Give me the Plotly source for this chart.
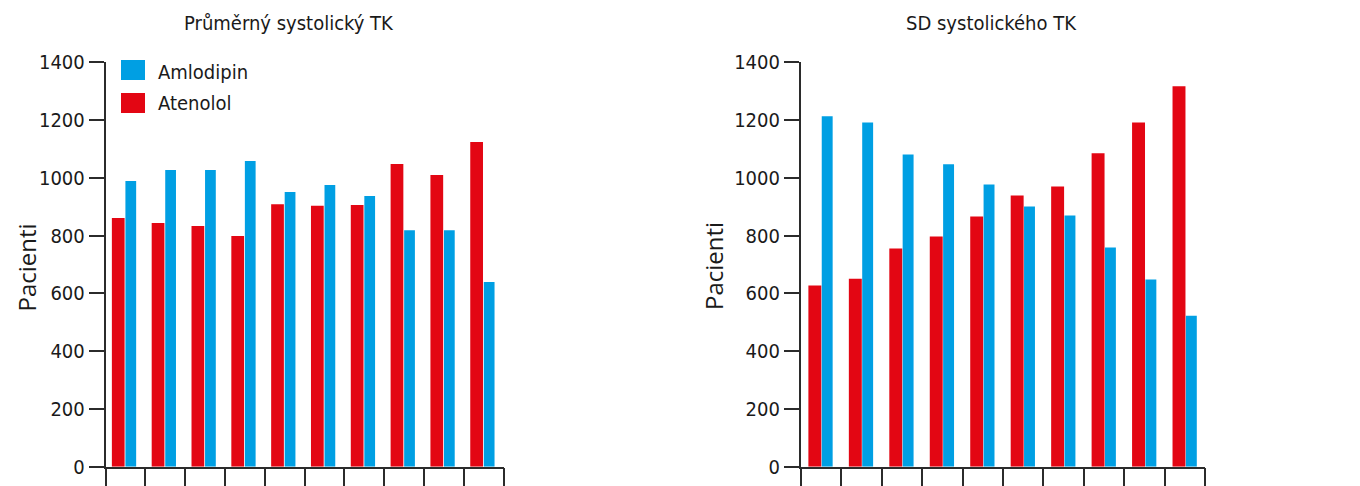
import plotly.graph_objects as go

categories = [1, 2, 3, 4, 5, 6, 7, 8, 9, 10]
mean_atenolol = [861, 844, 833, 799, 909, 903, 906, 1048, 1010, 1124]
mean_amlodipin = [989, 1027, 1027, 1058, 951, 975, 937, 819, 819, 639]
sd_atenolol = [627, 651, 755, 797, 866, 939, 970, 1085, 1192, 1317]
sd_amlodipin = [1213, 1192, 1081, 1047, 977, 901, 870, 759, 648, 523]
y_ticks = [0, 200, 400, 600, 800, 1000, 1200, 1400]
titles = ["Průměrný systolický TK", "SD systolického TK"]
y_title = "Pacienti"
series_names = ["Amlodipin", "Atenolol"]

RED = "#E30613"
BLUE = "#009FE3"
INK = "#1a1a1a"
AXIS = "#2b2b2b"
FONT = "'DejaVu Sans Condensed', 'DejaVu Sans', sans-serif"
FONT_W = "'Open Sans', Lato, sans-serif"

fig = go.Figure()

# left panel
fig.add_trace(go.Bar(x=categories, y=mean_atenolol, name=series_names[1], marker_color=RED,
                     width=0.32, offset=-0.34, marker_line_width=0, showlegend=False,
                     xaxis="x", yaxis="y"))
fig.add_trace(go.Bar(x=categories, y=mean_amlodipin, name=series_names[0], marker_color=BLUE,
                     width=0.27, offset=0.0, marker_line_width=0, showlegend=False,
                     xaxis="x", yaxis="y"))
# right panel
fig.add_trace(go.Bar(x=categories, y=sd_atenolol, name=series_names[1], marker_color=RED,
                     width=0.32, offset=-0.31, marker_line_width=0, showlegend=False,
                     xaxis="x2", yaxis="y2"))
fig.add_trace(go.Bar(x=categories, y=sd_amlodipin, name=series_names[0], marker_color=BLUE,
                     width=0.27, offset=0.02, marker_line_width=0, showlegend=False,
                     xaxis="x2", yaxis="y2"))

# the page body has an 8px margin; the figure is sized to fit inside the window
OFF = 8
W, H = 1360 - OFF, 486 - OFF
def px(x):
    return (x - OFF) / W
def py(y):
    return 1 - (y - OFF) / H

ydom = [py(466.7), py(62.3)]

xaxis_common = dict(range=[0.5, 10.5], tick0=0.5, dtick=1, ticks="outside", ticklen=18,
                    tickwidth=1.5, tickcolor=AXIS, showticklabels=False, showgrid=False,
                    zeroline=False, showline=True, linecolor=AXIS, linewidth=1.5,
                    fixedrange=True, automargin=False)
yaxis_common = dict(range=[0, 1400], tickvals=y_ticks, ticks="outside", ticklen=15,
                    tickwidth=1.5, tickcolor=AXIS, showgrid=False, zeroline=False,
                    showline=True, linecolor=AXIS, linewidth=1.5, automargin=False,
                    tickfont=dict(family=FONT, size=20, color=INK), domain=ydom)

fig.update_layout(
    width=W, height=H,
    margin=dict(l=0, r=0, t=0, b=0, autoexpand=False),
    paper_bgcolor="white", plot_bgcolor="white",
    barmode="overlay",
    showlegend=False,
    font=dict(family=FONT, color=INK),
    xaxis=dict(domain=[px(105.5), px(503.7)], anchor="y", **xaxis_common),
    yaxis=dict(anchor="x", **yaxis_common),
    xaxis2=dict(domain=[px(800.7), px(1205.3)], anchor="y2", **xaxis_common),
    yaxis2=dict(anchor="x2", **yaxis_common),
)

annotations = [
    dict(text=titles[0], x=px(289), y=py(23), xref="paper", yref="paper", showarrow=False,
         xanchor="center", yanchor="middle", font=dict(family=FONT, size=20, color=INK)),
    dict(text=titles[1], x=px(991), y=py(23), xref="paper", yref="paper", showarrow=False,
         xanchor="center", yanchor="middle", font=dict(family=FONT, size=20, color=INK)),
    dict(text=y_title, x=0, y=py(268), xref="paper", yref="paper", showarrow=False,
         textangle=-90, xanchor="left", yanchor="middle", borderpad=0,
         font=dict(family=FONT_W, size=24, color=INK)),
    dict(text=y_title, x=px(713), y=py(266), xref="paper", yref="paper", showarrow=False,
         textangle=-90, xanchor="center", yanchor="middle", font=dict(family=FONT_W, size=24, color=INK)),
    dict(text=series_names[0], x=px(156), y=py(72), xref="paper", yref="paper", showarrow=False,
         xanchor="left", yanchor="middle", font=dict(family=FONT, size=20, color=INK)),
    dict(text=series_names[1], x=px(156), y=py(103), xref="paper", yref="paper", showarrow=False,
         xanchor="left", yanchor="middle", font=dict(family=FONT, size=20, color=INK)),
]
fig.update_layout(annotations=annotations)

shapes = [
    dict(type="rect", xref="paper", yref="paper", x0=px(121), x1=px(145), y0=py(80), y1=py(60),
         fillcolor=BLUE, line_width=0),
    dict(type="rect", xref="paper", yref="paper", x0=px(121), x1=px(145), y0=py(113), y1=py(93),
         fillcolor=RED, line_width=0),
]
fig.update_layout(shapes=shapes)

fig.write_html("out.html")
